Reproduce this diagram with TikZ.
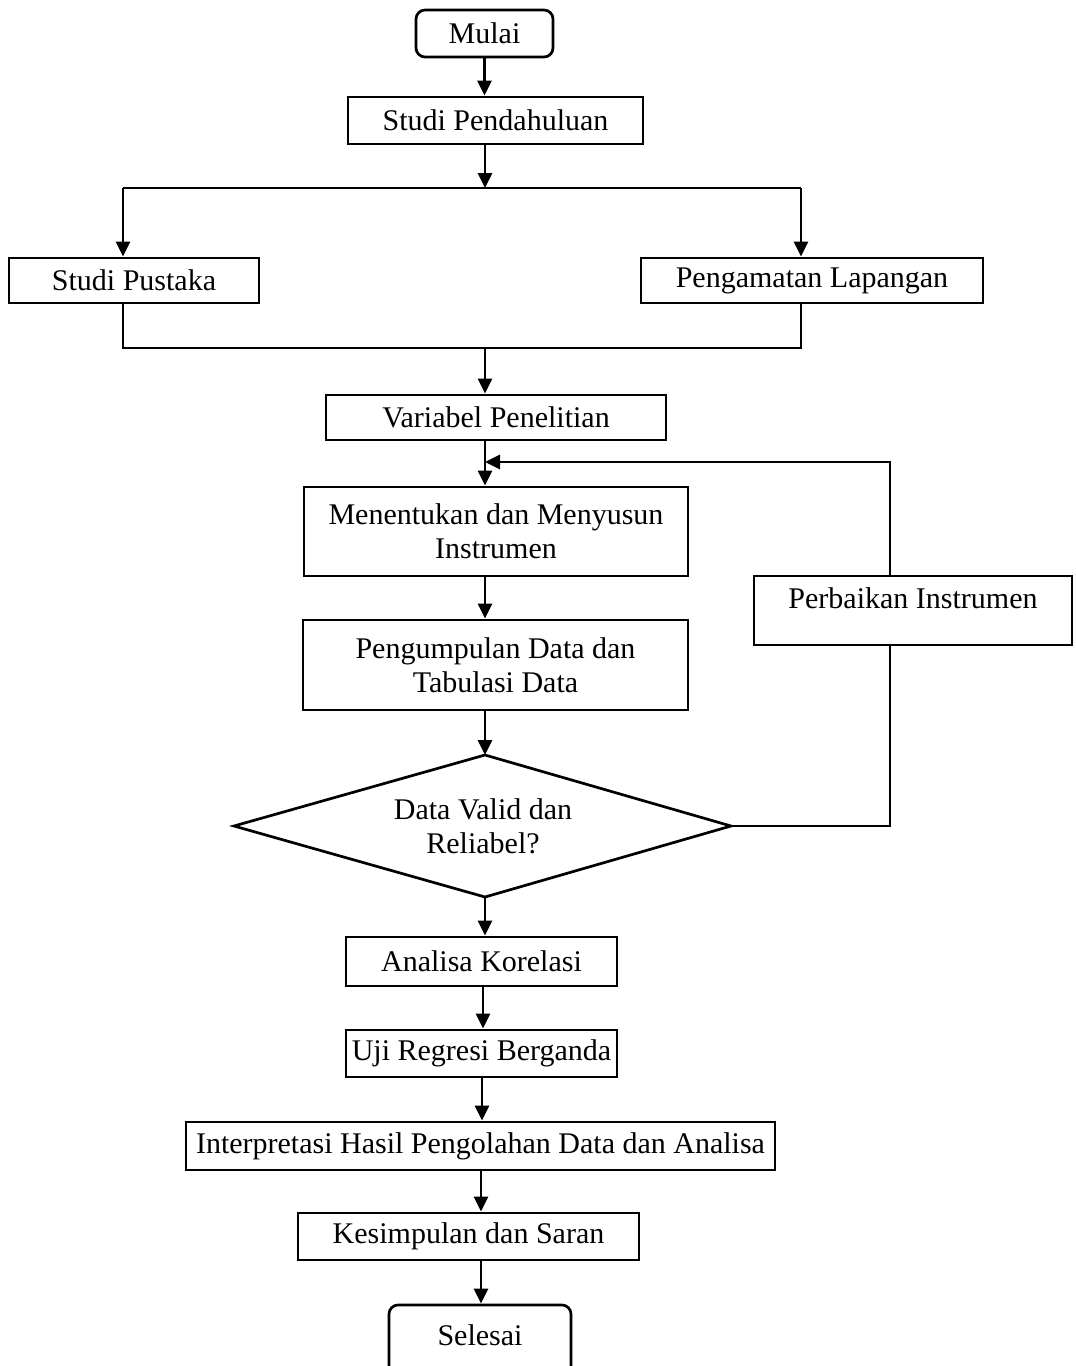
\documentclass[tikz,border=0pt]{standalone}
\usepackage{fontspec}
\setmainfont{Liberation Serif}
\usetikzlibrary{arrows.meta,shapes.geometric,calc}
\begin{document}
\begin{tikzpicture}[x=1pt,y=-1pt,
  every node/.style={font=\fontsize{30}{34}\selectfont, align=center, inner sep=0pt},
  box/.style={draw, line width=2.7pt, rectangle},
  term/.style={draw, line width=2.7pt, rectangle, rounded corners=9pt},
  ln/.style={line width=2.8pt},
  arr/.style={line width=2.8pt, -{Triangle[length=15pt,width=14pt]}}]
\useasboundingbox (0,0) rectangle (1076,1366);
\node[term, minimum width=137pt, minimum height=47pt] (mulai) at (484.5,33.5) {Mulai};
\node[box, minimum width=295pt, minimum height=47pt] (sp) at (495.5,120.5) {Studi Pendahuluan};
\node[box, minimum width=250pt, minimum height=45pt] (pus) at (134,280.5) {Studi Pustaka};
\node[box, minimum width=342pt, minimum height=45pt] (lap) at (812,280.5) {Pengamatan Lapangan};
\node[box, minimum width=340pt, minimum height=45pt] (var) at (496,417.5) {Variabel Penelitian};
\node[box, minimum width=384pt, minimum height=89pt] (ins) at (496,531.5) {Menentukan dan Menyusun\\Instrumen};
\node[box, minimum width=318pt, minimum height=69pt] (perb) at (913,610.5) {\raisebox{2.5pt}[0pt][0pt]{Perbaikan Instrumen}};
\node[box, minimum width=385pt, minimum height=90pt] (kum) at (495.5,665) {Pengumpulan Data dan\\Tabulasi Data};
\path[draw, line width=2.7pt] (485,755) coordinate (dt) -- (731,826) coordinate (dr) -- (485,897) coordinate (db) -- (234,826) coordinate (dl) -- cycle;
\node (dec) at (483,826) {Data Valid dan\\Reliabel?};
\node[box, minimum width=271pt, minimum height=49pt] (kor) at (481.5,961.5) {Analisa Korelasi};
\node[box, minimum width=271pt, minimum height=47pt] (reg) at (481.5,1053.5) {Uji Regresi Berganda};
\node[box, minimum width=589pt, minimum height=48pt] (int) at (480.5,1146) {Interpretasi Hasil Pengolahan Data dan Analisa};
\node[box, minimum width=341pt, minimum height=47pt] (kes) at (468.5,1236.5) {Kesimpulan dan Saran};
\node[term, minimum width=182pt, minimum height=75pt] (sel) at (480,1342.5) {\raisebox{-2.5pt}[0pt][0pt]{Selesai}};
% connectors
\draw[arr] (mulai.south) -- (mulai.south |- sp.north);
\coordinate (j1) at (485,188);
\draw[arr] (sp.south -| j1) -- (j1);
\draw[ln] (123,188) coordinate (jl) -- (801,188) coordinate (jr);
\draw[arr] (jl) -- (jl |- pus.north);
\draw[arr] (jr) -- (jr |- lap.north);
\coordinate (j2) at (485,348);
\draw[ln] (pus.south -| jl) -- (123,348) -- (801,348) -- (lap.south -| jr);
\draw[arr] (j2) -- (j2 |- var.north);
\draw[arr] (var.south -| j2) -- (ins.north -| j2);
\draw[arr] (ins.south -| j2) -- (kum.north -| j2);
\draw[arr] (kum.south -| j2) -- (dt);
\coordinate (fb) at (485,462);
\draw[arr] (perb.north -| 890,0) -- (890,462) -- (fb);
\draw[ln] (perb.south -| 890,0) -- (890,826) -- (dr);
\draw[arr] (db) -- (kor.north -| db);
\draw[arr] (kor.south -| 483,0) -- (reg.north -| 483,0);
\draw[arr] (reg.south -| 482,0) -- (int.north -| 482,0);
\draw[arr] (int.south -| 481,0) -- (kes.north -| 481,0);
\draw[arr] (kes.south -| 481,0) -- (sel.north -| 481,0);
\end{tikzpicture}
\end{document}
